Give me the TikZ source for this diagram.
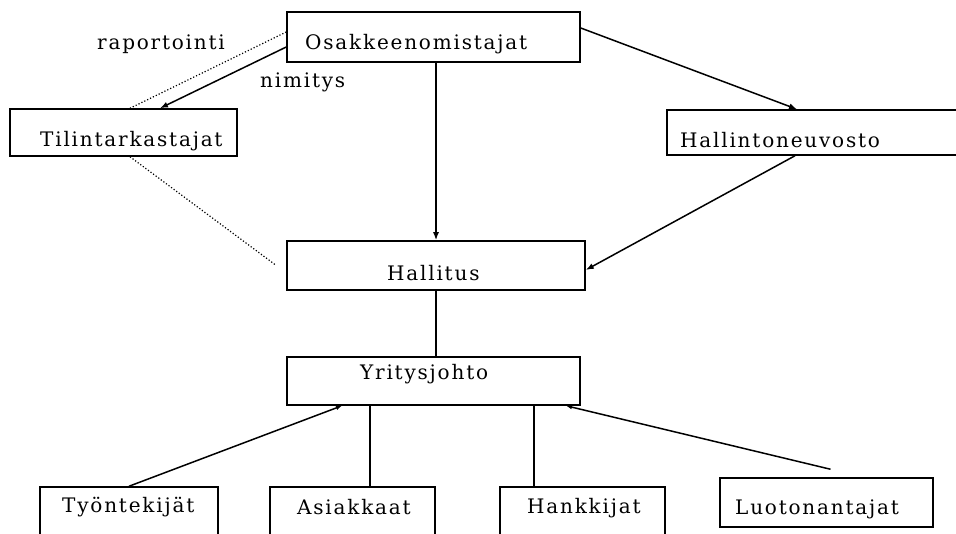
\documentclass[tikz,border=0pt]{standalone}
\usepackage{fontspec}
\newfontfamily\lbl{DejaVu Serif}[LetterSpace=9]
\usetikzlibrary{arrows.meta}
\begin{document}
\begin{tikzpicture}[x=1pt,y=-1pt,
  box/.style={draw=black, line width=1.5pt, inner sep=0pt},
  txt/.style={inner sep=0pt, anchor=base west, font=\lbl\fontsize{20}{24}\selectfont},
  conn/.style={draw=black, line width=1.5pt},
  dots/.style={draw=black, line width=1.2pt, dotted},
  arr/.style={-{Latex[length=8pt,width=6pt]}},
  sarr/.style={-{Latex[length=6pt,width=4.5pt]}}]
\useasboundingbox (0,0) rectangle (956,534);
\clip (0,0) rectangle (956,534);
\fill[white] (0,0) rectangle (956,534);
% boxes
\node[box, minimum width=293pt, minimum height=50pt] (osk) at (433.5,37) {};
\node[box, minimum width=227pt, minimum height=47pt] (til) at (123.5,132.5) {};
\node[box, minimum width=323pt, minimum height=45pt] (hal) at (828.5,132.5) {};
\node[box, minimum width=298pt, minimum height=49pt] (hts) at (436,265.5) {};
\node[box, minimum width=293pt, minimum height=48pt] (yj) at (433.5,381) {};
\node[box, minimum width=178pt, minimum height=73pt] (tyo) at (129,523.5) {};
\node[box, minimum width=165pt, minimum height=73pt] (asi) at (352.5,523.5) {};
\node[box, minimum width=165pt, minimum height=73pt] (han) at (582.5,523.5) {};
\node[box, minimum width=213pt, minimum height=49pt] (luo) at (826.5,502.5) {};
% texts
\node[txt] (tosk) at (305,50) {Osakkeenomistajat};
\node[txt] (ttil) at (40,147) {Tilintarkastajat};
\node[txt] (thal) at (680,148) {Hallintoneuvosto};
\node[txt] (thts) at (387,281) {Hallitus};
\node[txt] (tyj) at (360,380) {Yritysjohto};
\node[txt] (ttyo) at (62,512) {Työntekijät};
\node[txt] (tasi) at (297,514) {Asiakkaat};
\node[txt] (than) at (527,513) {Hankkijat};
\node[txt] (tluo) at (735,514) {Luotonantajat};
\node[txt] (trap) at (97,50) {raportointi};
\node[txt] (tnim) at (260,88) {nimitys};
% connectors
\draw[dots] ([yshift=5pt]osk.west) -- ([xshift=6.5pt]til.north);
\draw[conn, arr] ([yshift=-10pt]osk.west) -- ([xshift=36.5pt]til.north);
\draw[conn, arr] (hts.north |- osk.south) -- (hts.north);
\draw[conn, arr] ([yshift=9pt]osk.east) -- ([xshift=-31.5pt]hal.north);
\draw[conn, arr] ([xshift=-33.5pt]hal.south) -- ([yshift=-4.5pt]hts.east);
\draw[dots] ([xshift=6.5pt]til.south) -- ([xshift=-10pt]hts.west);
\draw[conn] (hts.south) -- (hts.south |- yj.north);
\draw[conn, sarr] (tyo.north) -- ([xshift=-91.5pt]yj.south);
\draw[conn] ([xshift=17.5pt]asi.north) -- ([xshift=17.5pt]asi.north |- yj.south);
\draw[conn] ([xshift=-48.5pt]han.north) -- ([xshift=-48.5pt]han.north |- yj.south);
\draw[conn, sarr] ([shift={(4pt,8pt)}]luo.north) -- ([xshift=132.5pt]yj.south);
\end{tikzpicture}
\end{document}
